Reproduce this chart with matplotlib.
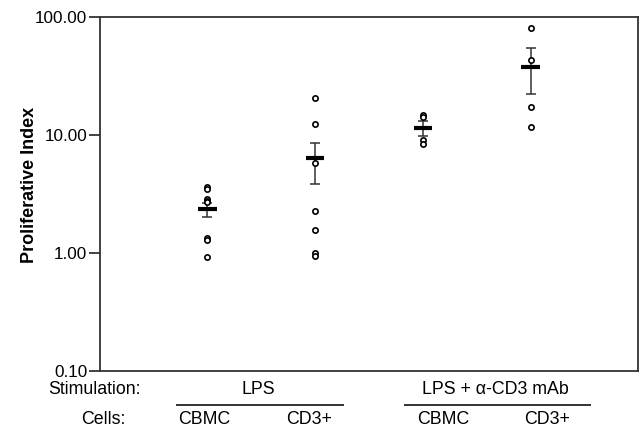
import matplotlib
matplotlib.use("Agg")
import matplotlib.pyplot as plt
import matplotlib.transforms as mtransforms
import numpy as np
from matplotlib.ticker import FixedLocator, FuncFormatter, NullLocator

plt.rcParams['font.family'] = ['Liberation Sans', 'DejaVu Sans']

# data
cells = ["CBMC", "CD3+", "CBMC", "CD3+"]
stimulation = ["LPS", "LPS + \u03b1-CD3 mAb"]
points = [
    [3.6, 3.5, 2.85, 2.75, 2.7, 1.35, 1.28, 0.93],   # LPS / CBMC
    [20.6, 12.4, 5.8, 2.27, 1.57, 1.0, 0.94],         # LPS / CD3+
    [14.8, 14.2, 9.1, 8.4],                           # LPS + aCD3 / CBMC
    [80.7, 43.2, 17.3, 11.7],                         # LPS + aCD3 / CD3+
]
means = [2.36, 6.38, 11.5, 37.7]
err_low = [2.02, 3.84, 9.8, 22.3]
err_high = [2.65, 8.56, 13.1, 54.6]
yticks = [0.1, 1, 10, 100]

x = np.arange(1, len(cells) + 1)

fig = plt.figure(figsize=(6.44, 4.33), dpi=100)
ax = fig.add_axes([0.155, 0.143, 0.836, 0.818])

for xi, vals in zip(x, points):
    ax.plot([xi] * len(vals), vals, 'o', ms=3.8, mfc='white', mec='black', mew=1.2,
            zorder=3)

means = np.array(means)
yerr = np.vstack([means - np.array(err_low), np.array(err_high) - means])
ax.errorbar(x, means, yerr=yerr, fmt='none', ecolor='#333333', elinewidth=1.1,
            capsize=3.3, capthick=1.1, zorder=2)
ax.hlines(means, x - 0.085, x + 0.085, colors='black', linewidth=3, zorder=4)

ax.set_yscale('log')
ax.set_ylim(0.1, 100)
ax.set_xlim(0, 5)
ax.yaxis.set_major_locator(FixedLocator(yticks))
ax.yaxis.set_minor_locator(NullLocator())
ax.yaxis.set_major_formatter(FuncFormatter(lambda v, p: f"{v:.2f}"))
ax.set_xticks([])
ax.tick_params(axis='y', direction='out', length=8, width=1.2, labelsize=12.3,
               pad=1, color='#222222')
for s in ax.spines.values():
    s.set_linewidth(1.3)
    s.set_color('#333333')

ax.set_ylabel('Proliferative Index', fontsize=13, fontweight='bold')
ax.yaxis.set_label_coords(-0.115, 0.525)

# category labels under the axes
trans = mtransforms.blended_transform_factory(ax.transData, fig.transFigure)
cell_x = [0.97, 1.94, 3.19, 4.15]
stim_x = [1.47, 3.67]
stim_lines = [(0.72, 2.26), (2.83, 4.55)]
stim_y = 1 - 390 / 433
cell_y = 1 - 419 / 433
for cx, lab in zip(cell_x, cells):
    ax.text(cx, cell_y, lab, transform=trans, ha='center', va='center', fontsize=12.8)
for sx, lab in zip(stim_x, stimulation):
    ax.text(sx, stim_y, lab, transform=trans, ha='center', va='center', fontsize=12.8)
for x0, x1 in stim_lines:
    ax.plot([x0, x1], [1 - 405 / 433] * 2, transform=trans, color='#333333',
            lw=1.4, clip_on=False)
fig.text(94 / 644, stim_y, 'Stimulation:', ha='center', va='center', fontsize=12.8)
fig.text(103 / 644, cell_y, 'Cells:', ha='center', va='center', fontsize=12.8)

fig.savefig('out.png', dpi=100)
